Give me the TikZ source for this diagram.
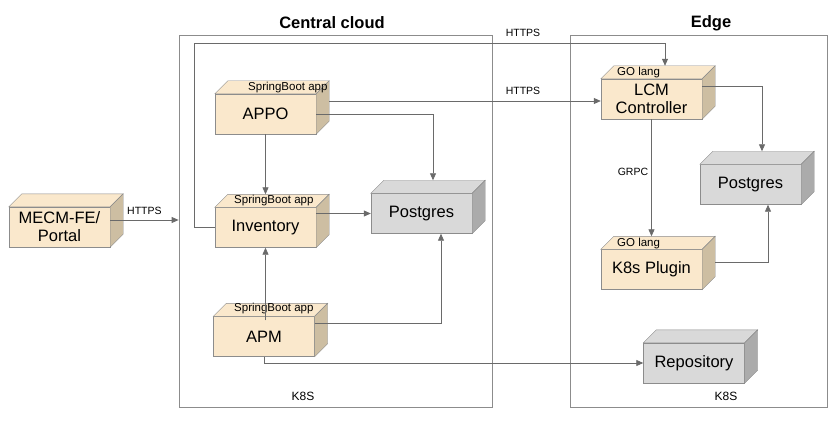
\documentclass[tikz,border=0pt]{standalone}
\usepackage{fontspec}
\setmainfont{Liberation Sans}
\usetikzlibrary{arrows.meta}

\definecolor{boxtan}{HTML}{FAE8CC}
\definecolor{sidetan}{HTML}{CDBEA2}
\definecolor{boxgray}{HTML}{D9D9D9}
\definecolor{sidegray}{HTML}{ABABAB}
\definecolor{linegray}{HTML}{6A6A6A}
\definecolor{framegray}{HTML}{8C8C8C}

\begin{document}
\begin{tikzpicture}[x=1pt,y=-1pt,
        every node/.style={inner sep=0pt},
        app/.style={draw=framegray,fill=boxtan,minimum width=101pt,minimum height=40pt,
            align=center,font=\fontsize{16.5}{18}\selectfont},
        store/.style={app,fill=boxgray},
        tag/.style={anchor=west,font=\fontsize{11.5}{13}\selectfont},
        note/.style={font=\fontsize{10.5}{12}\selectfont},
        title/.style={font=\fontsize{16.5}{18}\selectfont\bfseries},
        zone/.style={draw=framegray,line width=0.8pt},
        link/.style={draw=linegray,line width=0.8pt,-{Triangle[length=7pt,width=6pt]}}]
    \useasboundingbox (0,0) rectangle (837,422);
    % containers
    \node [zone,minimum width=313pt,minimum height=372pt] (cloud) at (335.5,221) {};
    \node [zone,minimum width=257pt,minimum height=372pt] (edge) at (698.5,221) {};
    \node [title] (cloudtitle) at (332,23) {Central cloud};
    \node [title] (edgetitle) at (711,23) {Edge};
    \node [note,font=\fontsize{12}{14}\selectfont] (cloudk8s) at (303,396) {K8S};
    \node [note,font=\fontsize{12}{14}\selectfont] (edgek8s) at (726,396) {K8S};
    % boxes
    \node [app] (mecm) at (59.5,227) {MECM-FE/\\Portal};
    \node [app] (appo) at (265.5,114) {APPO};
    \node [app] (inv) at (265.5,227.5) {Inventory};
    \node [app] (apm) at (264,336.5) {APM};
    \node [store] (pgc) at (421.5,213.5) {Postgres};
    \node [app] (lcm) at (651.5,99) {LCM\\Controller};
    \node [store] (pge) at (750.5,184.5) {Postgres};
    \node [app] (plugin) at (651.5,269.5) {K8s Plugin};
    \node [store] (repo) at (694,363) {Repository};
    \foreach \n/\t/\s in {mecm/boxtan/sidetan,appo/boxtan/sidetan,inv/boxtan/sidetan,
            apm/boxtan/sidetan,lcm/boxtan/sidetan,plugin/boxtan/sidetan,
            pgc/boxgray/sidegray,pge/boxgray/sidegray,repo/boxgray/sidegray}{
        \draw [framegray,fill=\t] (\n.north west) -- ++(13,-13)
            -- ([shift={(13,-13)}]\n.north east) -- (\n.north east) -- cycle;
        \draw [framegray,fill=\s] (\n.north east) -- ++(13,-13)
            -- ([shift={(13,-13)}]\n.south east) -- (\n.south east) -- cycle;
    }
    \node [tag] (appotag) at (248,88) {SpringBoot app};
    \node [tag] (invtag) at (234,201) {SpringBoot app};
    \node [tag] (apmtag) at (234,309) {SpringBoot app};
    \node [tag] (lcmtag) at (617,73) {GO lang};
    \node [tag] (plugintag) at (617,244) {GO lang};
    % connectors
    \coordinate (appoout) at ([shift={(13,-13)}]appo.east);
    \coordinate (lcmtop) at ([shift={(13.5,-13)}]lcm.north);
    \draw [link] ([yshift=7pt]mecm.east) -- ([yshift=7pt]mecm.east -| cloud.west)
        node [note,midway,above=5pt] (httpsa) {HTTPS};
    \draw [link] (appo.south) -- ([yshift=13pt]inv.north);
    \draw [link] (appo.east) -| ([shift={(11.5,-13)}]pgc.north);
    \draw [link] (appoout) -- (appoout -| lcm.west);
    \node [note] (httpsb) at (523,91) {HTTPS};
    \draw [link] (inv.west) -- ++(-20,0) |- ([yshift=22pt]lcmtop) -- (lcmtop);
    \node [note] (httpsc) at (523,33) {HTTPS};
    \draw [link] (inv.east |- pgc.west) -- (pgc.west);
    \draw [link] ([yshift=-4pt]inv.south |- apm.north) -- (inv.south);
    \draw [link] ([yshift=13.5pt]apm.east) -| ([xshift=19.5pt]pgc.south);
    \draw [link] (apm.south) |- (repo.west);
    \draw [link] ([yshift=13pt]lcm.east) -| ([shift={(11.5,-13)}]pge.north);
    \draw [link] (lcm.south) -- ([yshift=13pt]plugin.north)
        node [note,pos=0.45,left=3pt] (grpc) {GRPC};
    \draw [link] ([shift={(13,-7.5)}]plugin.east) -| ([xshift=17.5pt]pge.south);
\end{tikzpicture}
\end{document}
